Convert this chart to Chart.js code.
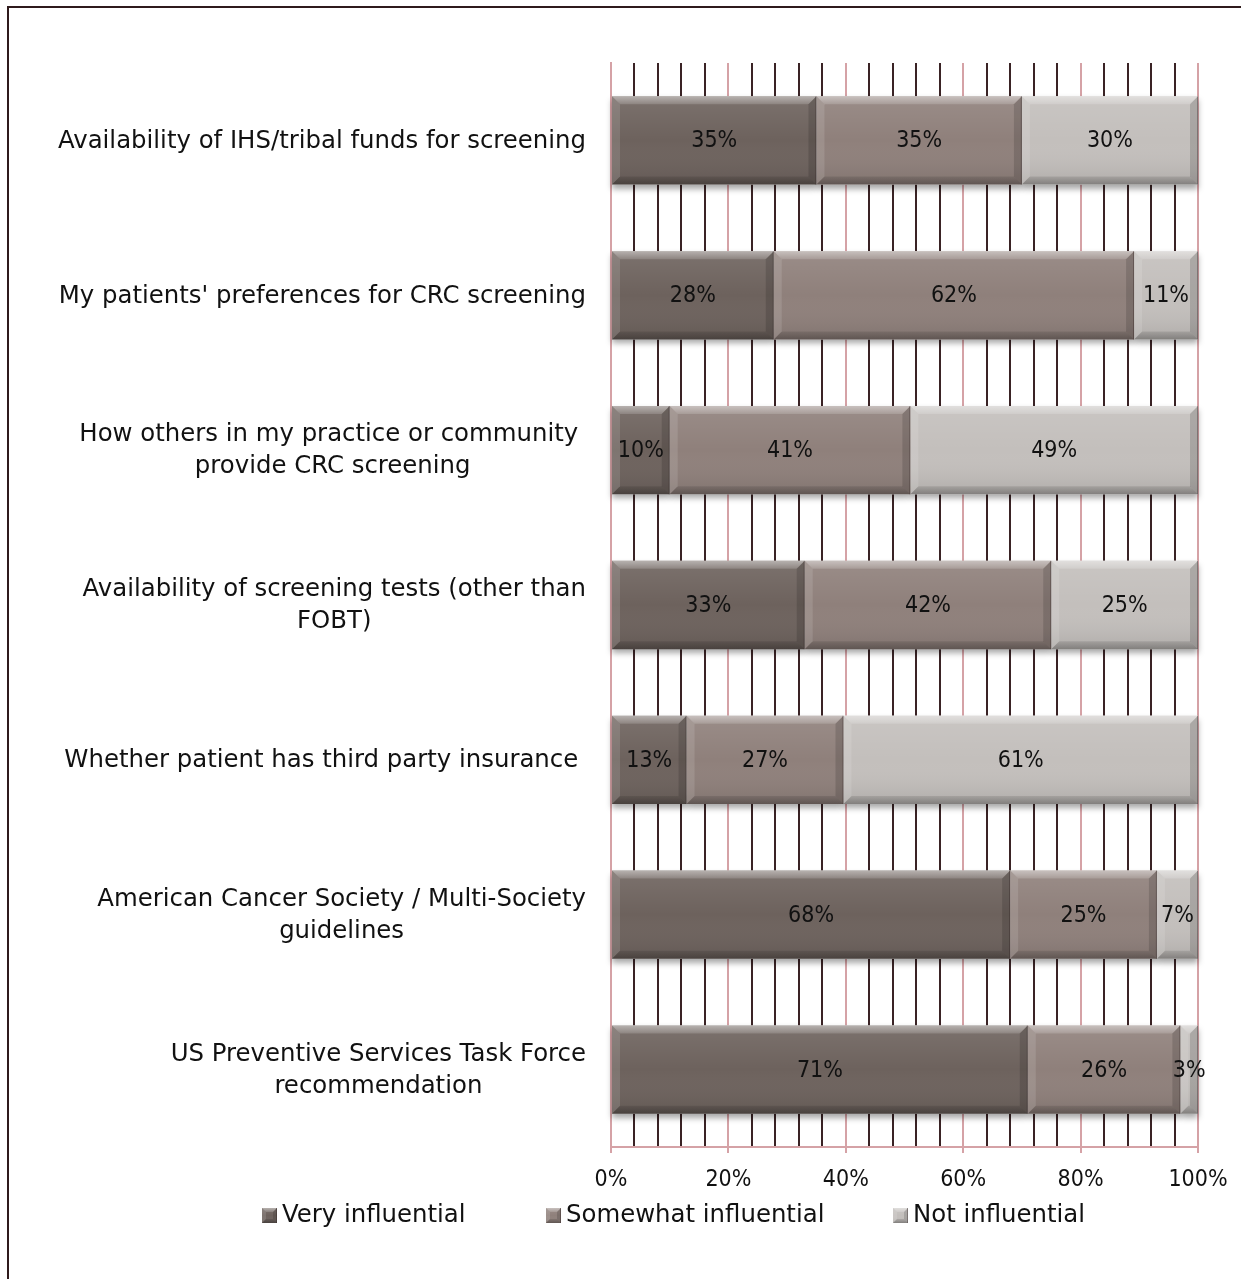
<!DOCTYPE html>
<html>
<head>
<meta charset="utf-8">
<script src="https://cdn.jsdelivr.net/npm/chart.js@4.4.0/dist/chart.umd.min.js"></script>
<style>
  html, body { margin: 0; padding: 0; background: #ffffff; }
  #wrap { position: relative; width: 1241px; height: 1279px; overflow: hidden; }
  #wrap canvas { position: absolute; left: 0; top: 0; }
  #frame {
    position: absolute; left: 7px; top: 6px; width: 1400px; height: 1400px;
    border-top: 2px solid #2f1a1c; border-left: 2px solid #2f1a1c; pointer-events: none;
  }
</style>
</head>
<body>
<div id="wrap">
  <canvas id="chart" width="1241" height="1279"></canvas>
  <div id="frame"></div>
</div>
<script>
// Survey factors (one entry per bar, lines of the wrapped label)
const categories = [
  ['Availability of IHS/tribal funds for screening'],
  ["My patients' preferences for CRC screening"],
  ['How others in my practice or community ', 'provide CRC screening'],
  ['Availability of screening tests (other than', 'FOBT)'],
  ['Whether patient has third party insurance '],
  ['American Cancer Society / Multi-Society', 'guidelines'],
  ['US Preventive Services Task Force', 'recommendation']
];

// Share of respondents (%) per response
const veryInfluential     = [35, 28, 10, 33, 13, 68, 71];
const somewhatInfluential = [35, 62, 41, 42, 27, 25, 26];
const notInfluential      = [30, 11, 49, 25, 61,  7,  3];

const seriesNames  = ['Very influential', 'Somewhat influential', 'Not influential'];
const seriesColors = ['#6d625d', '#8f807b', '#c3bfbc'];

// Labelled ticks on the value axis
const axisTicks = [0, 20, 40, 60, 80, 100];

const NUM_FONT = '"DejaVu Sans Condensed", "DejaVu Sans", sans-serif';
const TEXT_FONT = '"DejaVu Sans", sans-serif';
const MAJOR = '#d5a2a6';
const MINOR = '#3a2325';
const LABEL_RIGHT = 586;
const LEGEND_X = [262, 546, 893];

// 100% stacked: each row is scaled to its own total
const rows = [veryInfluential, somewhatInfluential, notInfluential];
const totals = veryInfluential.map((v, i) => v + somewhatInfluential[i] + notInfluential[i]);
const toShare = arr => arr.map((v, i) => v / totals[i] * 100);

function bevelRect(ctx, L, T, R, B, size) {
  const w = R - L, h = B - T;
  const b = Math.max(0, Math.min(size, w / 2, h / 2));
  // face shading
  const g = ctx.createLinearGradient(0, T, 0, B);
  g.addColorStop(0, 'rgba(255,255,255,0.10)');
  g.addColorStop(0.5, 'rgba(255,255,255,0)');
  g.addColorStop(1, 'rgba(0,0,0,0.10)');
  ctx.fillStyle = g;
  ctx.fillRect(L, T, w, h);
  const poly = (pts, fill) => {
    ctx.beginPath();
    ctx.moveTo(pts[0][0], pts[0][1]);
    for (let i = 1; i < pts.length; i++) ctx.lineTo(pts[i][0], pts[i][1]);
    ctx.closePath();
    ctx.fillStyle = fill;
    ctx.fill();
  };
  const tg = ctx.createLinearGradient(0, T, 0, T + b);
  tg.addColorStop(0, 'rgba(255,255,255,0.45)');
  tg.addColorStop(1, 'rgba(255,255,255,0.15)');
  poly([[L, T], [R, T], [R - b, T + b], [L + b, T + b]], tg);
  poly([[L, T], [L + b, T + b], [L + b, B - b], [L, B]], 'rgba(255,255,255,0.12)');
  poly([[R, T], [R, B], [R - b, B - b], [R - b, T + b]], 'rgba(0,0,0,0.14)');
  const bg = ctx.createLinearGradient(0, B - b, 0, B);
  bg.addColorStop(0, 'rgba(0,0,0,0.10)');
  bg.addColorStop(1, 'rgba(0,0,0,0.26)');
  poly([[L, B], [R, B], [R - b, B - b], [L + b, B - b]], bg);
  ctx.fillStyle = 'rgba(40,25,25,0.35)';
  ctx.fillRect(R - 1, T, 1, h);
}

function barRects(chart) {
  const out = [];
  chart.data.datasets.forEach((ds, di) => {
    chart.getDatasetMeta(di).data.forEach((el, i) => {
      const p = el.getProps(['x', 'y', 'base', 'height'], true);
      out.push({ di, i, L: Math.min(p.x, p.base), R: Math.max(p.x, p.base),
                 T: p.y - p.height / 2, B: p.y + p.height / 2, y: p.y });
    });
  });
  return out;
}

const decorations = {
  id: 'decorations',
  beforeDatasetsDraw(chart) {
    const ctx = chart.ctx;
    ctx.save();
    ctx.shadowColor = 'rgba(0,0,0,0.35)';
    ctx.shadowBlur = 6;
    ctx.shadowOffsetY = 4;
    ctx.fillStyle = '#ffffff';
    barRects(chart).forEach(r => ctx.fillRect(r.L, r.T, r.R - r.L, r.B - r.T));
    ctx.restore();
  },
  afterDatasetsDraw(chart) {
    const ctx = chart.ctx;
    ctx.save();
    const rects = barRects(chart);
    rects.forEach(r => bevelRect(ctx, r.L, r.T, r.R, r.B, 8));
    // value labels
    ctx.fillStyle = '#111111';
    ctx.font = '23px ' + NUM_FONT;
    ctx.textAlign = 'center';
    ctx.textBaseline = 'middle';
    rects.forEach(r => {
      ctx.fillText(rows[r.di][r.i] + '%', (r.L + r.R) / 2, r.y + 1);
    });
    ctx.restore();
  },
  afterDraw(chart) {
    const ctx = chart.ctx;
    const yScale = chart.scales.y;
    ctx.save();
    ctx.fillStyle = '#111111';
    ctx.font = '24.4px ' + TEXT_FONT;
    ctx.textBaseline = 'middle';
    ctx.textAlign = 'center';
    // category labels, wrapped lines centred on each other
    categories.forEach((lines, i) => {
      const cy = yScale.getPixelForValue(i);
      const widths = lines.map(s => ctx.measureText(s).width);
      const block = Math.max(...widths);
      const cx = LABEL_RIGHT - block / 2;
      const lh = 32;
      const y0 = cy - (lines.length - 1) * lh / 2 + 1;
      lines.forEach((s, k) => ctx.fillText(s, cx, y0 + k * lh));
    });
    // legend
    const ly = 1215;
    ctx.textAlign = 'left';
    seriesNames.forEach((name, k) => {
      const x = LEGEND_X[k];
      ctx.fillStyle = seriesColors[k];
      ctx.fillRect(x, ly - 7, 15, 15);
      bevelRect(ctx, x, ly - 7, x + 15, ly + 8, 4);
      ctx.fillStyle = '#111111';
      ctx.fillText(name, x + 20, ly + 1);
    });
    ctx.restore();
  }
};

new Chart(document.getElementById('chart'), {
  type: 'bar',
  data: {
    labels: categories,
    datasets: rows.map((arr, k) => ({
      label: seriesNames[k],
      data: toShare(arr),
      backgroundColor: seriesColors[k],
      borderWidth: 0,
      barPercentage: 0.57,
      categoryPercentage: 1
    }))
  },
  options: {
    indexAxis: 'y',
    responsive: false,
    animation: false,
    events: [],
    layout: { padding: { top: 63, right: 43, left: 0, bottom: 0 } },
    plugins: { legend: { display: false }, tooltip: { enabled: false } },
    scales: {
      x: {
        stacked: true,
        min: 0,
        max: 100,
        position: 'bottom',
        afterFit(s) { s.height = 132; },
        ticks: {
          stepSize: 4,
          autoSkip: false,
          maxRotation: 0,
          padding: 13,
          color: '#111111',
          font: { family: NUM_FONT, size: 23 },
          callback: v => axisTicks.includes(v) ? v + '%' : ''
        },
        grid: {
          color: c => (c.tick && c.tick.value % 20 === 0) ? MAJOR : MINOR,
          tickColor: c => (c.tick && c.tick.value % 20 === 0) ? MAJOR : 'rgba(0,0,0,0)',
          lineWidth: 2,
          tickLength: 6
        },
        border: { display: true, color: MAJOR, width: 2 }
      },
      y: {
        stacked: true,
        afterFit(s) { s.width = 611; },
        ticks: { display: false },
        grid: { display: false },
        border: { display: true, color: MAJOR, width: 2 }
      }
    }
  },
  plugins: [decorations]
});
</script>
</body>
</html>
